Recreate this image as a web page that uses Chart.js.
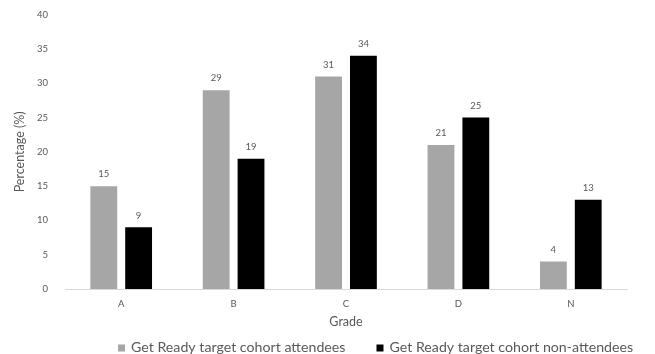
<!DOCTYPE html>
<html>
<head>
<meta charset="utf-8">
<script src="https://cdn.jsdelivr.net/npm/chart.js@4/dist/chart.umd.min.js"></script>
<style>
  html, body { margin: 0; padding: 0; background: #fff; }
  #wrap { width: 655px; height: 354px; position: relative; }
</style>
</head>
<body>
<div id="wrap"><canvas id="chart"></canvas></div>
<script>
// Grade distribution for the two cohorts
const grades = ['A', 'B', 'C', 'D', 'N'];
const attendees = [15, 29, 31, 21, 4];
const nonAttendees = [9, 19, 34, 25, 13];
const seriesNames = ['Get Ready target cohort attendees', 'Get Ready target cohort non-attendees'];
const yTicks = [0, 5, 10, 15, 20, 25, 30, 35, 40];

const FONT = 'Lato, "Open Sans", sans-serif';
const TEXT = '#595959';

// Writes each bar's value just above it
const valueLabels = {
  id: 'valueLabels',
  afterDatasetsDraw(chart) {
    const ctx = chart.ctx;
    ctx.save();
    ctx.font = '9.5px ' + FONT;
    ctx.fillStyle = TEXT;
    ctx.textAlign = 'center';
    ctx.textBaseline = 'bottom';
    chart.data.datasets.forEach((ds, i) => {
      chart.getDatasetMeta(i).data.forEach((bar, j) => {
        ctx.fillText(String(ds.data[j]), bar.x, bar.y - 7);
      });
    });
    ctx.restore();
  }
};

// Bottom legend: small square swatch followed by the series name
const bottomLegend = {
  id: 'bottomLegend',
  afterDraw(chart) {
    const ctx = chart.ctx;
    const box = 7, textGap = 6, itemGap = 31;
    const y = chart.height - 7;
    let x = 118;
    ctx.save();
    ctx.font = '14.2px ' + FONT;
    ctx.textBaseline = 'middle';
    ctx.textAlign = 'left';
    chart.data.datasets.forEach(ds => {
      ctx.fillStyle = ds.backgroundColor;
      ctx.fillRect(x, y - box / 2 + 1, box, box);
      x += box + textGap;
      ctx.fillStyle = TEXT;
      ctx.fillText(ds.label, x, y);
      x += ctx.measureText(ds.label).width + itemGap;
    });
    ctx.restore();
  }
};

new Chart(document.getElementById('chart'), {
  type: 'bar',
  data: {
    labels: grades,
    datasets: [
      { label: seriesNames[0], data: attendees, backgroundColor: '#a6a6a6' },
      { label: seriesNames[1], data: nonAttendees, backgroundColor: '#000000' }
    ]
  },
  options: {
    responsive: true,
    maintainAspectRatio: false,
    animation: false,
    devicePixelRatio: 1,
    datasets: { bar: { barPercentage: 0.77, categoryPercentage: 0.62 } },
    layout: { padding: { top: 9, right: 28, left: 12, bottom: 25 } },
    plugins: {
      tooltip: { enabled: false },
      legend: { display: false }
    },
    scales: {
      x: {
        afterFit(scale) { scale.height = 40; },
        grid: { display: false, drawTicks: false },
        border: { color: '#d9d9d9' },
        ticks: { color: TEXT, font: { family: FONT, size: 9.5 }, padding: 9 },
        title: { display: true, text: 'Grade', color: TEXT, font: { family: FONT, size: 12.5 }, padding: { top: 5, bottom: 0 } }
      },
      y: {
        min: 0, max: 40,
        afterBuildTicks(scale) { scale.ticks = yTicks.map(v => ({ value: v })); },
        afterFit(scale) { scale.width = 53; },
        grid: { display: false },
        border: { display: false },
        ticks: { color: TEXT, font: { family: FONT, size: 9.5 }, padding: 9 },
        title: { display: true, text: 'Percentage (%)', color: TEXT, font: { family: FONT, size: 12.5 }, padding: { top: 0, bottom: 8 } }
      }
    }
  },
  plugins: [valueLabels, bottomLegend]
});
</script>
</body>
</html>
